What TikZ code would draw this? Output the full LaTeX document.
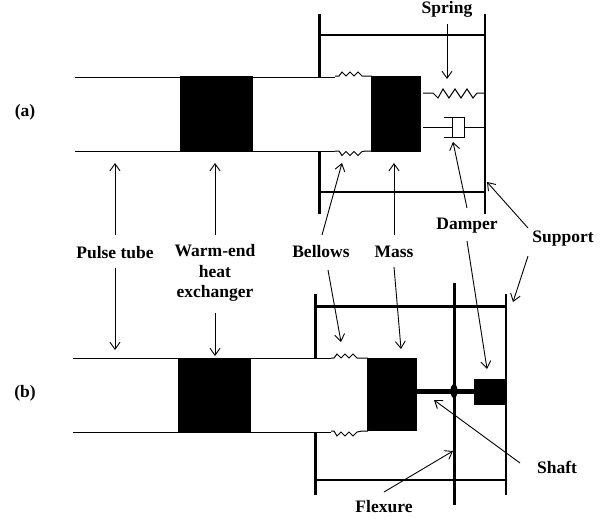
\documentclass[tikz,border=0pt]{standalone}
\usepackage{fontspec}
\setmainfont{Liberation Serif}
\usetikzlibrary{arrows.meta}
\tikzset{
 x=1pt,y=-1pt,
 lab/.style={font=\fontsize{17.5}{20.5}\selectfont\bfseries,align=center,inner sep=0pt},
 thin line/.style={line width=1pt},
 frame/.style={line width=2.4pt},
 arr/.style={line width=0.9pt,-{Straight Barb[length=7pt,width=10pt]}}
}
\begin{document}
\begin{tikzpicture}
\useasboundingbox (0,0) rectangle (615,520);
\fill[white] (0,0) rectangle (615,520);
% (a)
\draw[thin line] (75,77) -- (335,77) (75,151) -- (335,151);
\draw[thin line] (335,76) -- (339,76) -- (342,72) -- (346,76) -- (350,72) -- (354,76) -- (358,72) -- (362,76) -- (366,76) -- (372,76);
\draw[thin line] (335,151) -- (339,151) -- (342,155.5) -- (346,151.5) -- (350,155.5) -- (354,151.5) -- (358,155.5) -- (362,151.5) -- (366,151) -- (372,151);
\fill (180,76) rectangle (253,151.5);
\fill (371,76) rectangle (421,151.5);
\draw[frame] (319.5,14) -- (319.5,77) (319.5,151) -- (319.5,214) (485,14) -- (485,214);
\draw[frame] (319.5,35) -- (485,35) (319.5,192) -- (485,192);
\draw[thin line] (423,93) -- (433,93) -- (438,98) -- (443,89) -- (449,98) -- (455,89) -- (461,98) -- (467,89) -- (473,98) -- (477,93) -- (484,93);
\draw[thin line] (423,127) -- (452,127) (452,117) -- (452,137);
\draw[thin line] (444,117) -- (464,117) -- (464,137) -- (444,137);
\draw[thin line] (464,127) -- (484,127);
% (b)
\draw[thin line] (73,358) -- (331,358) (73,432) -- (331,432);
\draw[thin line] (331,358) -- (334,358) -- (337,354) -- (341,358) -- (345,354) -- (349,358) -- (353,354) -- (357,358) -- (362,358) -- (368,358);
\draw[thin line] (331,431) -- (334,431) -- (337,436) -- (341,432) -- (345,436) -- (349,432) -- (353,436) -- (357,432) -- (362,431) -- (368,431);
\fill (178,358) rectangle (251,432);
\fill (367,358) rectangle (417,431);
\draw[frame] (315.5,294) -- (315.5,358) (315.5,432) -- (315.5,495) (506,294) -- (506,495);
\draw[frame] (315.5,306.5) -- (506,306.5) (315.5,480) -- (506,480);
\draw[line width=3pt] (454,283) -- (454,505);
\draw[line width=5pt] (417,391) -- (474,391);
\fill (454,391) ellipse (3.5 and 7);
\fill (474,379) rectangle (507,405);
% labels
\node[lab] (la) at (25,112) {(a)};
\node[lab] (lb) at (25,393) {(b)};
\node[lab] (spring) at (447,9) {Spring};
\node[lab] (pulse) at (115,253) {Pulse tube};
\node[lab] (warm) at (215,273) {Warm-end\\heat\\exchanger};
\node[lab] (bellows) at (321,252) {Bellows};
\node[lab] (mass) at (394,252) {Mass};
\node[lab] (damper) at (467,226) {Damper};
\node[lab] (support) at (563,239) {Support};
\node[lab] (shaft) at (557,467) {Shaft};
\node[lab] (flexure) at (384,507) {Flexure};
% arrows
\draw[arr] (447,24) -- (447,79);
\draw[arr] (115,235) -- (115,163);
\draw[arr] (115,268) -- (115,350);
\draw[arr] (215,235) -- (215,163);
\draw[arr] (215,313) -- (215,356);
\draw[arr] (322,235) -- (342,163);
\draw[arr] (394,235) -- (394,163);
\draw[arr] (467,208) -- (453,142);
\draw[arr] (528,228) -- (487,182);
\draw[arr] (528,256) -- (513,302);
\draw[arr] (328,270) -- (341,342);
\draw[arr] (394,267) -- (401,349);
\draw[arr] (467,241) -- (487,369);
\draw[arr] (520,463) -- (434,400);
\draw[arr] (384,492) -- (453,451);
\end{tikzpicture}
\end{document}
